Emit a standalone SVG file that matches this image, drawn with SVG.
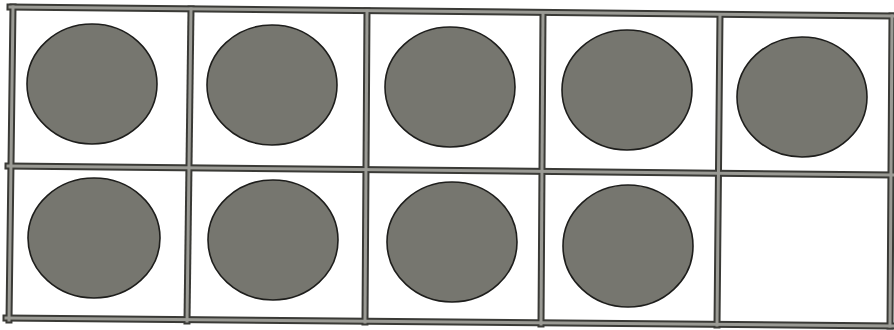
<svg xmlns="http://www.w3.org/2000/svg" width="894" height="330" viewBox="0 0 894 330">
<style>
.edge{stroke:#3a3a36;stroke-width:7;stroke-linecap:square;fill:none}
.core{stroke:#9a9a94;stroke-width:3;stroke-linecap:square;fill:none}
.counter{fill:#76766f;stroke:#1e1e1c;stroke-width:1.6}
</style>
<rect width="894" height="330" fill="#ffffff"/>
<g id="frame">
<g class="edge">
<line x1="10" y1="7" x2="894" y2="16"/>
<line x1="8" y1="166" x2="894" y2="175"/>
<line x1="6" y1="318" x2="894" y2="326"/>
<line x1="13" y1="7" x2="9" y2="320"/>
<line x1="191" y1="9" x2="187" y2="321"/>
<line x1="367" y1="11" x2="365" y2="322"/>
<line x1="543" y1="13" x2="541" y2="324"/>
<line x1="720" y1="15" x2="717" y2="325"/>
<line x1="892" y1="16" x2="890" y2="326"/>
</g>
<g class="core">
<line x1="10" y1="7" x2="894" y2="16"/>
<line x1="8" y1="166" x2="894" y2="175"/>
<line x1="6" y1="318" x2="894" y2="326"/>
<line x1="13" y1="7" x2="9" y2="320"/>
<line x1="191" y1="9" x2="187" y2="321"/>
<line x1="367" y1="11" x2="365" y2="322"/>
<line x1="543" y1="13" x2="541" y2="324"/>
<line x1="720" y1="15" x2="717" y2="325"/>
<line x1="892" y1="16" x2="890" y2="326"/>
</g>
</g>
<g id="counter1"><ellipse class="counter" cx="92" cy="84" rx="65" ry="60"/></g>
<g id="counter2"><ellipse class="counter" cx="272" cy="85" rx="65" ry="60"/></g>
<g id="counter3"><ellipse class="counter" cx="450" cy="87" rx="65" ry="60"/></g>
<g id="counter4"><ellipse class="counter" cx="627" cy="90" rx="65" ry="60"/></g>
<g id="counter5"><ellipse class="counter" cx="802" cy="97" rx="65" ry="60"/></g>
<g id="counter6"><ellipse class="counter" cx="94" cy="238" rx="66" ry="60"/></g>
<g id="counter7"><ellipse class="counter" cx="273" cy="240" rx="65" ry="60"/></g>
<g id="counter8"><ellipse class="counter" cx="452" cy="242" rx="65" ry="60"/></g>
<g id="counter9"><ellipse class="counter" cx="628" cy="246" rx="65" ry="61"/></g>
</svg>
